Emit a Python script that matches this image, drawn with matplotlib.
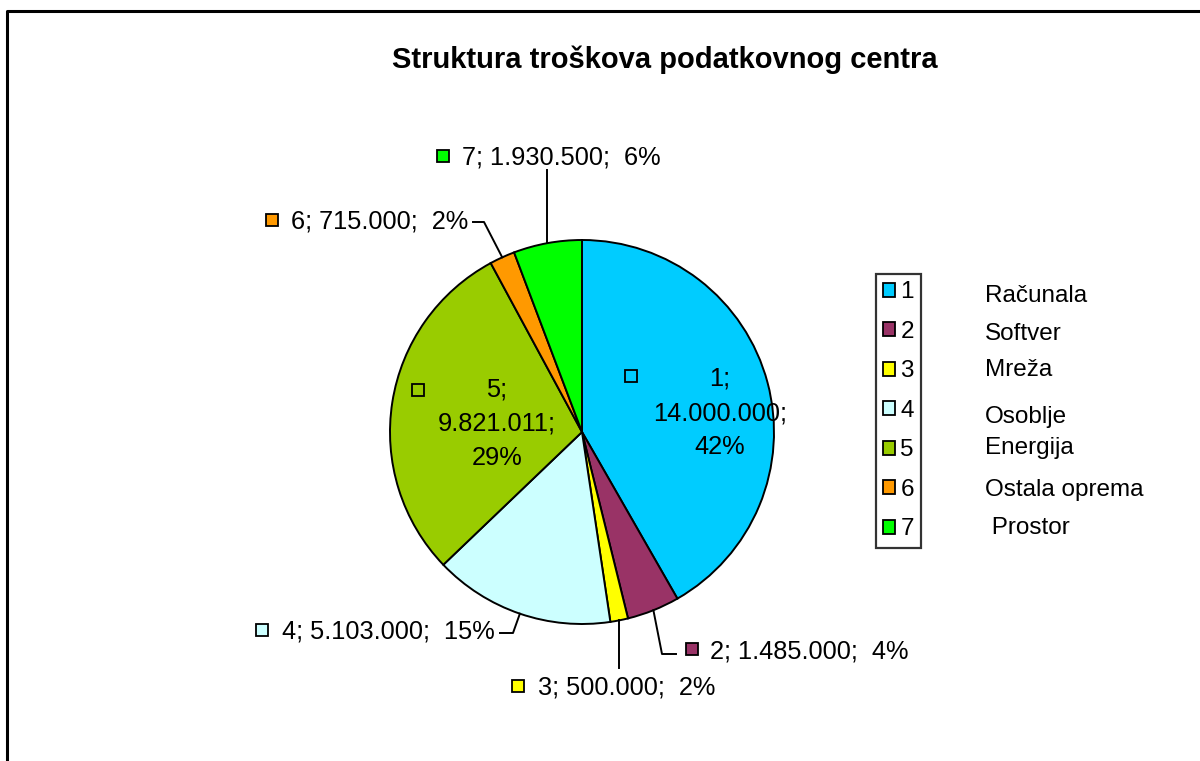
import numpy as np
import matplotlib
matplotlib.use("Agg")
import matplotlib.pyplot as plt
from matplotlib.patches import Rectangle

plt.rcParams['font.family'] = ['Liberation Sans', 'DejaVu Sans']

TITLE = "Struktura troškova podatkovnog centra"
IDS = ["1", "2", "3", "4", "5", "6", "7"]
NAMES = ["Računala", "Softver", "Mreža", "Osoblje", "Energija", "Ostala oprema", " Prostor"]
VALUES = [14000000, 1485000, 500000, 5103000, 9821011, 715000, 1930500]
VALUE_TEXT = ["14.000.000", "1.485.000", "500.000", "5.103.000", "9.821.011", "715.000", "1.930.500"]
PCT_TEXT = ["42%", "4%", "2%", "15%", "29%", "2%", "6%"]
COLORS = ["#00CCFF", "#993366", "#FFFF00", "#CCFFFF", "#99CC00", "#FF9900", "#00FF00"]

W, H = 1200, 761


def py(y):
    # pixel row (from top) -> data y
    return H - y


fig = plt.figure(figsize=(12, 7.61), dpi=100)
ax = fig.add_axes([0, 0, 1, 1])
ax.set_xlim(0, W)
ax.set_ylim(0, H)
ax.set_aspect('equal')
ax.axis('off')

# frame of the chart area
ax.plot([7, 7, W], [0, py(11), py(11)], color='black', lw=2.2, solid_capstyle='butt')

cx, cy, r = 582, 432, 192
wedges, _ = ax.pie(VALUES, colors=COLORS, startangle=90, counterclock=False,
                   center=(cx, py(cy)), radius=r,
                   wedgeprops=dict(edgecolor='black', linewidth=1.4))
ax.set_xlim(0, W)
ax.set_ylim(0, H)


def edge_point(w):
    a = np.deg2rad((w.theta1 + w.theta2) / 2)
    return cx + r * np.cos(a), py(cy) + r * np.sin(a)


FS = 18.3

# outside labels: (index, marker x, text x, text row, leader path points after the anchor)
outside = [
    (6, 443, 462, 158, [(None, 170)]),
    (5, 272, 291, 222, [(484, 222), (473, 222)]),
    (3, 262, 282, 632, [(513, 633), (500, 633)]),
    (2, 518, 538, 688, [(None, 668)]),
    (1, 692, 710, 651, [(662, 654), (676, 654)]),
]
for i, mx, tx, ty, path in outside:
    x0, y0 = edge_point(wedges[i])
    xs, ys = [x0], [y0]
    for px_, py_ in path:
        xs.append(x0 if px_ is None else px_)
        ys.append(py(py_))
    ax.plot(xs, ys, color='black', lw=1.4)
    ax.plot(mx, py(ty - 2), marker='s', ms=8.5, mfc=COLORS[i], mec='black', mew=1.3)
    ax.text(tx, py(ty), f"{IDS[i]}; {VALUE_TEXT[i]};  {PCT_TEXT[i]}", fontsize=FS,
            ha='left', va='center')

# inside labels
inside = [(0, 631, 376, 720, 413), (4, 418, 390, 497, 424)]
for i, mx, my, tx, ty in inside:
    ax.plot(mx, py(my), marker='s', ms=8.5, mfc=COLORS[i], mec='black', mew=1.3)
    ax.text(tx, py(ty), f"{IDS[i]};\n{VALUE_TEXT[i]};\n{PCT_TEXT[i]}", fontsize=FS,
            ha='center', va='center', linespacing=1.55)

ax.text(665, py(60), TITLE, fontsize=21, fontweight='bold', ha='center', va='center')

# legend with the ids, names placed beside it
handles = [Rectangle((0, 0), 1, 1, facecolor=c, edgecolor='black', lw=1.3) for c in COLORS]
leg = ax.legend(handles, IDS, loc='upper left', bbox_to_anchor=(876 / W, 1 - 274 / H),
                fontsize=17.5, frameon=True, fancybox=False, handlelength=0.5,
                handleheight=0.5, handletextpad=0.2, labelspacing=0.72,
                borderpad=0.3, borderaxespad=0)
leg.get_frame().set_edgecolor('black')
leg.get_frame().set_linewidth(1.6)

name_rows = [296, 334, 370, 417, 448, 490, 528]
for name, ry in zip(NAMES, name_rows):
    ax.text(985, py(ry), name, fontsize=17.5, ha='left', va='center')

fig.savefig("out.png", dpi=100, facecolor='white')
